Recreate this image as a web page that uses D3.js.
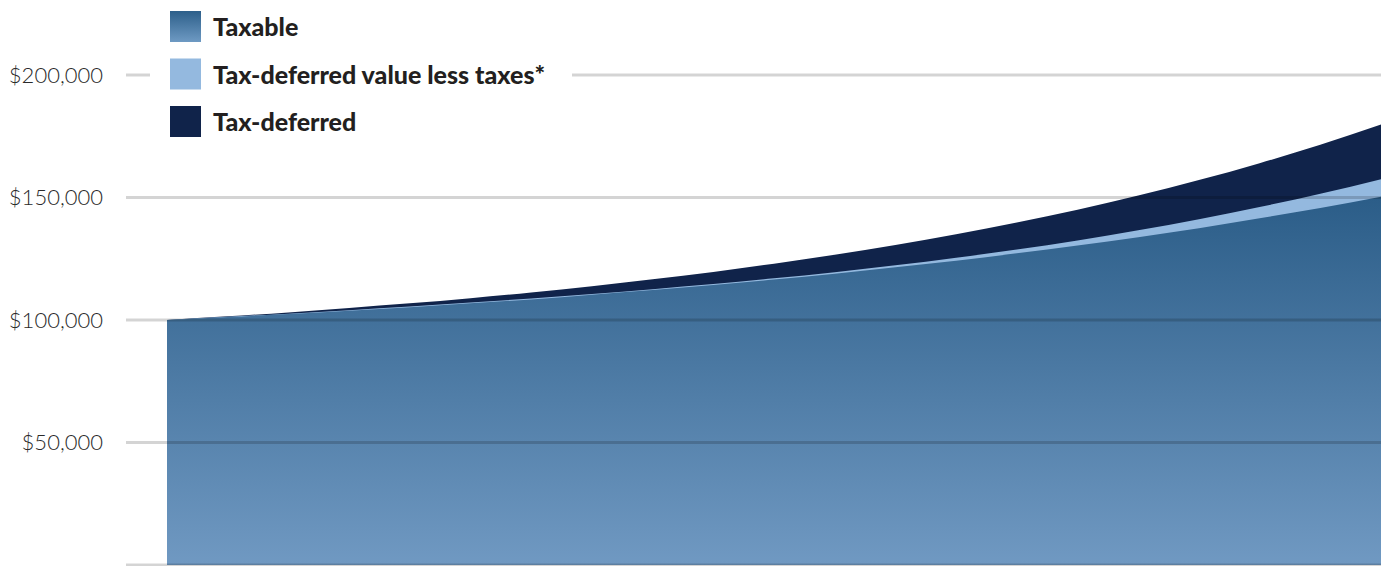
<!DOCTYPE html>
<html>
<head>
<meta charset="utf-8">
<script src="https://cdn.jsdelivr.net/npm/d3@7"></script>
<style>
  html, body { margin: 0; padding: 0; background: #fff; }
  svg { display: block; }
</style>
</head>
<body>
<div class="chart"></div>
<script>
// years 0..20
const years = d3.range(0, 21);
const taxDeferred = [100000, 101500, 103100, 104900, 106800, 108900, 111200, 113800, 116600, 119600,
  123000, 126600, 130600, 135000, 139800, 145000, 150800, 157100, 164000, 171500, 179800];
const taxDeferredLessTaxes = [100000, 101300, 102600, 104000, 105500, 107100, 108800, 110600, 112600, 114700,
  117000, 119500, 122300, 125400, 128800, 132500, 136600, 141100, 146100, 151500, 157500];
const taxable = [100000, 101200, 102400, 103800, 105200, 106800, 108400, 110300, 112200, 114300,
  116500, 118900, 121500, 124200, 127200, 130400, 133800, 137500, 141500, 145700, 150300];
const yTicks = [0, 50000, 100000, 150000, 200000];
const legendLabels = ['Taxable', 'Tax-deferred value less taxes*', 'Tax-deferred'];

const width = 1381, height = 566;
const navy = '#10234a', light = '#94b9df';

const svg = d3.select('.chart').append('svg')
  .attr('width', width)
  .attr('height', height);

const x = d3.scaleLinear().domain([0, 20]).range([167, 1381]);
const y = d3.scaleLinear().domain([0, 200000]).range([565, 75]);

const defs = svg.append('defs');
const grad = defs.append('linearGradient')
  .attr('id', 'taxGrad')
  .attr('gradientUnits', 'userSpaceOnUse')
  .attr('x1', 0).attr('x2', 0)
  .attr('y1', y(150000)).attr('y2', y(0));
grad.append('stop').attr('offset', '0%').attr('stop-color', '#2b5d88');
grad.append('stop').attr('offset', '100%').attr('stop-color', '#7099c2');

const legGrad = defs.append('linearGradient')
  .attr('id', 'legGrad')
  .attr('x1', 0).attr('x2', 0).attr('y1', 0).attr('y2', 1);
legGrad.append('stop').attr('offset', '0%').attr('stop-color', '#2d5f8a');
legGrad.append('stop').attr('offset', '100%').attr('stop-color', '#6e9ac3');

const area = vals => d3.area()
  .x((d, i) => x(years[i]))
  .y0(y(0))
  .y1(d => y(d))
  .curve(d3.curveMonotoneX)(vals);

// overlapping areas, largest first
svg.append('path').attr('d', area(taxDeferred)).attr('fill', navy);
svg.append('path').attr('d', area(taxDeferredLessTaxes)).attr('fill', light);
svg.append('path').attr('d', area(taxable)).attr('fill', 'url(#taxGrad)');

// gridlines on top, translucent so they darken over the areas
svg.append('g')
  .selectAll('line')
  .data(yTicks)
  .join('line')
  .attr('x1', 126)
  .attr('x2', width)
  .attr('y1', d => y(d))
  .attr('y2', d => y(d))
  .attr('stroke', 'rgba(0,0,0,0.17)')
  .attr('stroke-width', 3);

// tick labels
svg.append('g')
  .selectAll('text')
  .data(yTicks.filter(d => d > 0))
  .join('text')
  .attr('x', 103)
  .attr('y', d => y(d))
  .attr('dy', '0.35em')
  .attr('text-anchor', 'end')
  .attr('font-family', 'Lato, sans-serif')
  .attr('font-weight', 300)
  .attr('font-size', '22px')
  .attr('fill', '#2a2a2a')
  .text(d => d3.format('$,')(d));

// legend with white backing over the top gridline
const legend = svg.append('g');
legend.append('rect')
  .attr('x', 150).attr('y', 0)
  .attr('width', 422).attr('height', 150)
  .attr('fill', '#fff');

const legFills = ['url(#legGrad)', light, navy];
legendLabels.forEach((label, i) => {
  const top = 11 + i * 47.5;
  legend.append('rect')
    .attr('x', 170).attr('y', top)
    .attr('width', 31).attr('height', 31)
    .attr('fill', legFills[i]);
  legend.append('text')
    .attr('x', 213)
    .attr('y', top + 25)
    .attr('font-family', 'Lato, sans-serif')
    .attr('font-weight', 900)
    .attr('font-size', '25px')
    .attr('fill', '#231f20')
    .text(label);
});
</script>
</body>
</html>
